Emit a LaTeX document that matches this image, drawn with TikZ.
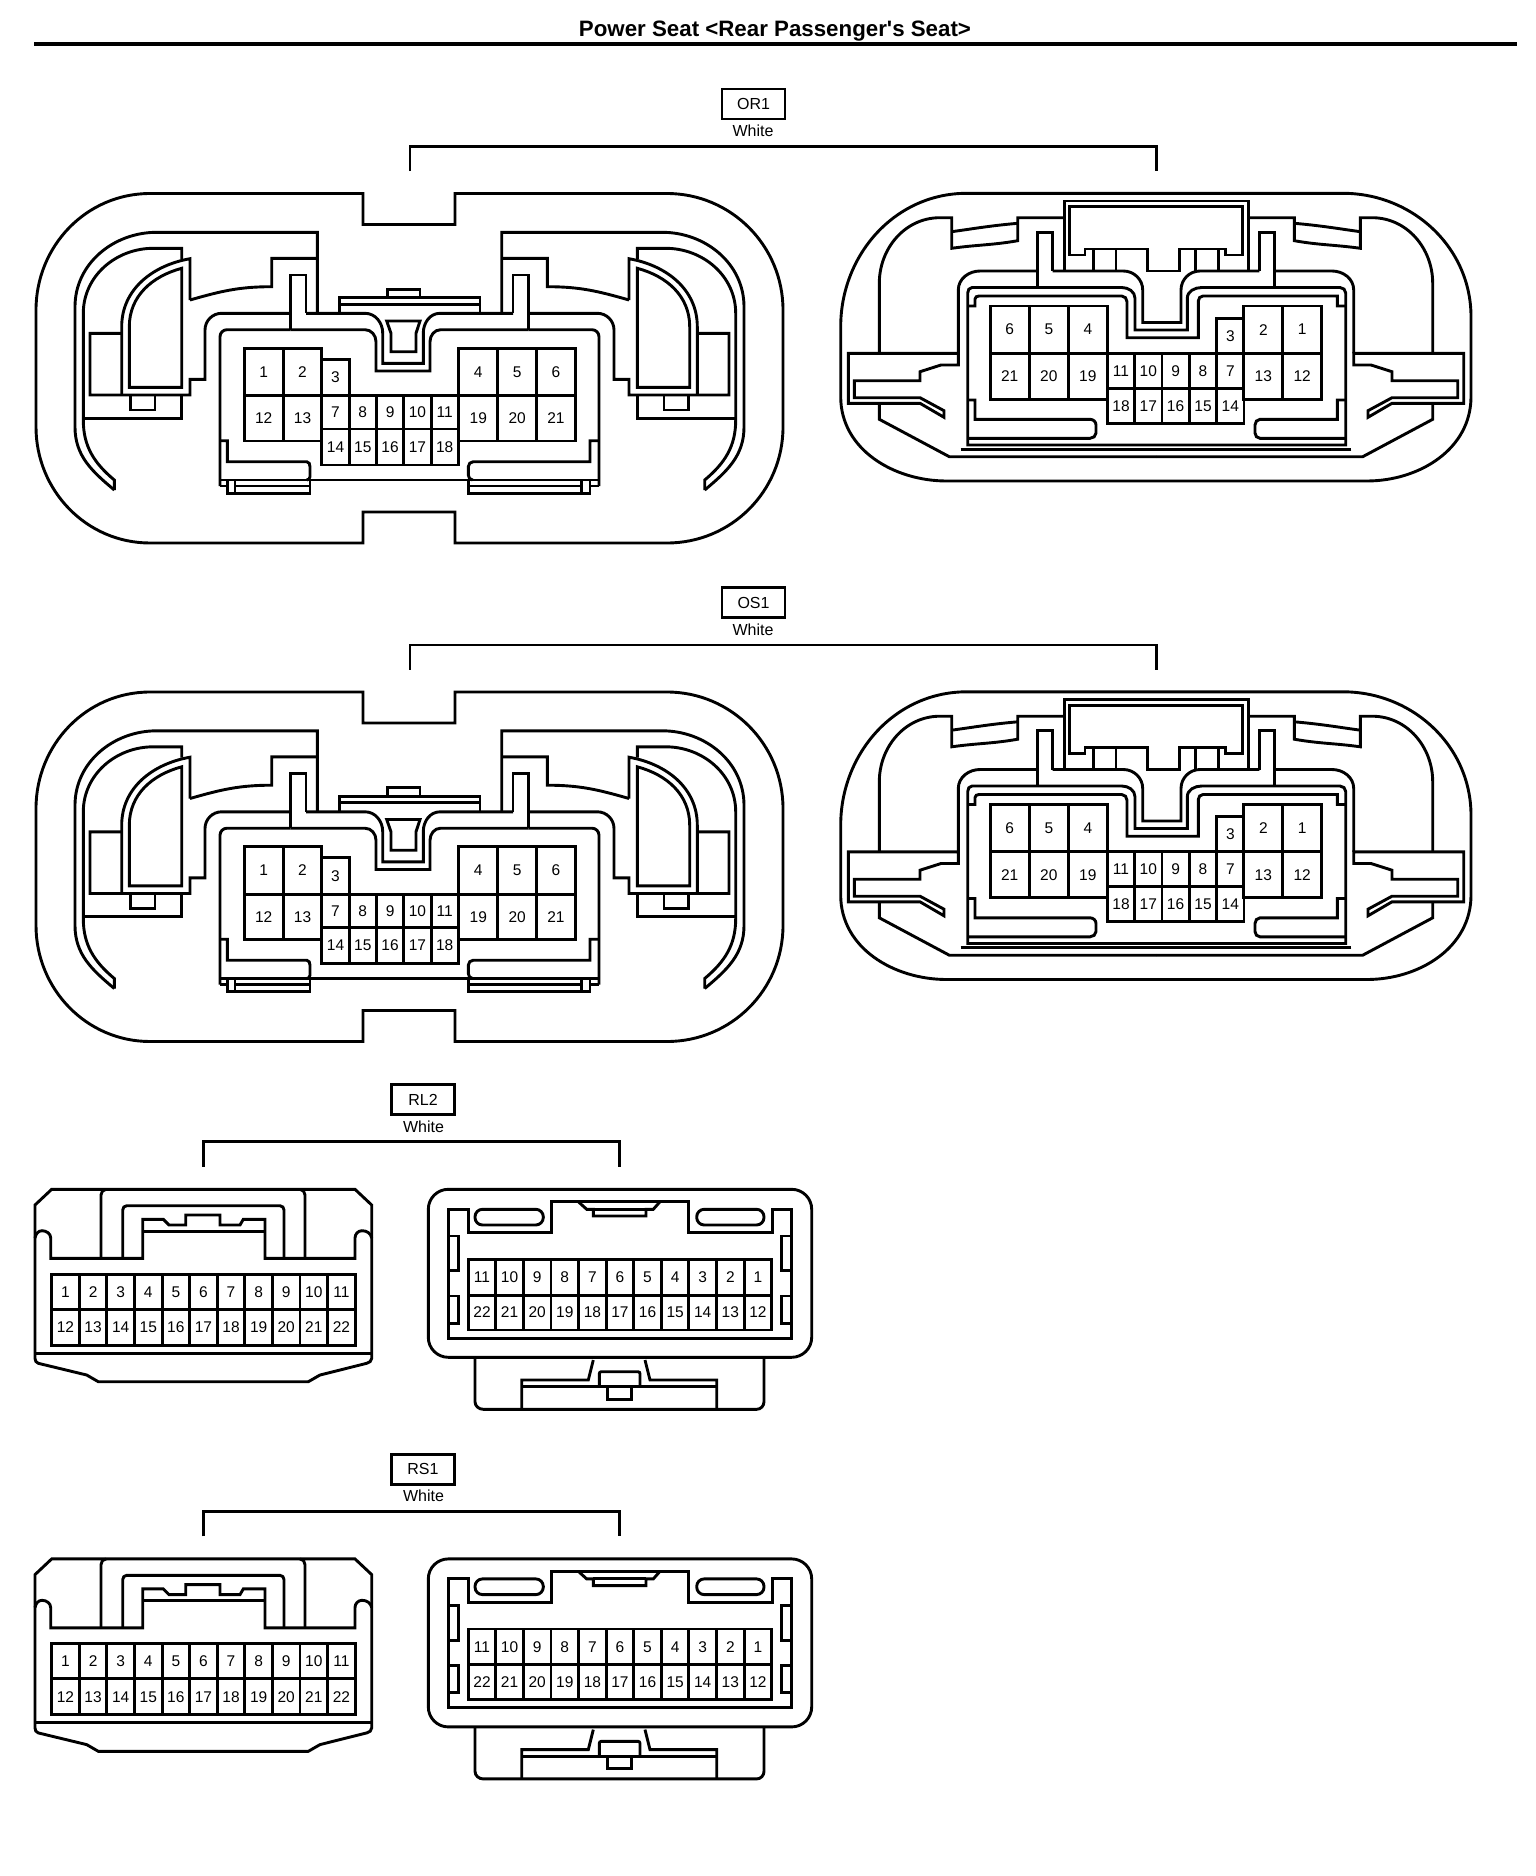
\documentclass[tikz,border=0pt]{standalone}
\usepackage{fontspec}
\setmainfont[Ligatures=TeXOff]{Liberation Sans}
\tikzset{
  pin/.style={draw,inner sep=0pt,font=\fontsize{15.5}{16}\selectfont},
  tagbox/.style={draw,inner sep=0pt,minimum width=63pt,minimum height=30pt,font=\fontsize{16}{16}\selectfont},
  colourtext/.style={anchor=base,inner sep=0pt,font=\fontsize{16}{16}\selectfont},
}
% one side of the wide connector, face with the slot
\newcommand\halfA{
\draw (114.3,490) -- (114.3,480) to[out=140,in=-90] (83.3,420) -- (83.3,313.3) to[out=90,in=180] (153.3,248.3) -- (181.7,248.3) -- (181.7,259);
\draw (114.3,490) to[out=140,in=-90] (75,427) -- (75,306.7) to[out=90,in=180] (156.7,232.3) -- (317.3,232.3) -- (317.3,313.3);
\draw (83.3,418.3) -- (181.7,418.3) -- (181.7,395);
\draw (190,300) to[out=16,in=180] (271.7,286.7) -- (271.7,258.3) -- (317.3,258.3);
\draw (190,300) -- (190,258.7) to[out=190,in=90] (121.7,326.7) -- (121.7,395);
\draw (121.7,333.3) -- (90,333.3) -- (90,395) -- (190,395) -- (190,379.3) -- (205,379.3) -- (205,330) to[out=90,in=180] (221.7,313.3) -- (290.7,313.3);
\draw (181.7,268.3) to[out=195,in=90] (129.3,326.7) -- (129.3,387.3) -- (181.7,387.3) -- cycle;
\draw (130.7,395) -- (130.7,410) -- (155,410) -- (155,395);
\draw (290.7,329.7) -- (290.7,275) -- (306,275) -- (306,313.3);
\draw (290.7,329.7) -- (227,329.7) to[out=180,in=90] (220,336.7) -- (220,486);
}
% one side of the wide connector, face with the top box
\newcommand\halfB{
\draw (1064.3,217.7) -- (1017.7,217.7) -- (1017.7,240.7) to[out=190,in=8] (951.7,248.3) -- (951.7,217.7) -- (940,217.7) to[out=180,in=90] (879.3,283.3) -- (879.3,353.3);
\draw (951.7,231.7) to[out=8,in=185] (1017.7,223.3);
\draw (958.3,353.3) -- (848.3,353.3) -- (848.3,403.3) -- (920,403.3) -- (944,417.3) -- (944,410.7) -- (920,397.7) -- (854.3,397.7) -- (854.3,380.7) -- (920,380.7) -- (920,371.7) -- (941,365) -- (958.3,365) -- cycle;
\draw (958.3,353.3) -- (958.3,290) to[out=90,in=180] (980,271) -- (1037.3,271);
\draw (1037.3,287) -- (1037.3,232.3) -- (1052.7,232.3) -- (1052.7,271);
\draw (879.3,403.3) -- (879.3,419.3) -- (949.3,456.7) -- (1156,456.7);
\draw (960.7,449.3) -- (1156,449.3);
}
% wide pair of connectors with its tag
\newcommand\widepair[3]{
\begin{scope}[shift={(0,#2)},name prefix=#1-]
\node[tagbox] (tag) at (753.5,104) {#3};
\node[colourtext] (col) at (753,136.7) {White};
\coordinate (brA) at (410,171);
\coordinate (brB) at (1156.5,171);
\draw (brA) -- ++(0,-24.5) -| (brB);
% face with the slot
\draw (363,193.5) -- (363,224.5) -- (455,224.5) -- (455,193.5) -- (667,193.5) to[out=0,in=90] (783,310) -- (783,427) to[out=-90,in=0] (667,543) -- (455,543) -- (455,512) -- (363,512) -- (363,543) -- (150,543) to[out=180,in=-90] (36,427) -- (36,310) to[out=90,in=180] (150,193.5) -- cycle;
\halfA
\begin{scope}[shift={(819,0)},xscale=-1]
\halfA
\end{scope}
\draw (306,313.3) -- (365,313.3) to[out=0,in=90] (382.7,333) -- (382.7,363.3) -- (423.3,363.3) -- (423.3,333) to[out=90,in=180] (440,313.3) -- (513,313.3);
\draw (290.7,329.7) -- (365,329.7) to[out=0,in=90] (376,341.7) -- (376,371) -- (430,371) -- (430,341.7) to[out=90,in=180] (440.7,329.7) -- (528.3,329.7);
\draw (339.3,313.3) -- (339.3,297.7) -- (480,297.7) -- (480,313.3);
\draw (339.3,304.3) -- (480,304.3);
\draw (387.3,297.7) -- (387.3,289.3) -- (420,289.3) -- (420,297.7);
\draw (386.7,321) -- (391,333.3) -- (391,351.7) -- (416,351.7) -- (416,333.3) -- (420,321) -- cycle;
\draw (220,440.7) -- (227.3,440.7) -- (227.3,461.7) -- (306.7,461.7) to[out=0,in=90] (310,466.7) -- (310,476.7) to[out=-90,in=0] (306.7,480);
\draw (599.3,440.7) -- (590,440.7) -- (590,461.7) -- (473.3,461.7) to[out=180,in=90] (468.3,466.7) -- (468.3,475) to[out=-90,in=180] (472.7,480);
\draw (220,480) -- (599.3,480);
\draw (220,486) -- (227.3,486) (235,486) -- (310,486) (468.3,486) -- (581.7,486) (590,486) -- (599.3,486);
\draw (227.3,480) -- (227.3,493.3) -- (310,493.3) -- (310,480);
\draw (235,480) -- (235,493.3);
\draw (468.3,480) -- (468.3,493.3) -- (590,493.3) -- (590,480);
\draw (581.7,480) -- (581.7,493.3);
\foreach \n/\x in {1/263.7,2/302.5,4/478.3,5/517.2,6/555.9}
  \node[pin,minimum width=38.8pt,minimum height=47.4pt] (p\n) at (\x,372) {\n};
\foreach \n/\x in {12/263.7,13/302.5,19/478.3,20/517.2,21/555.9}
  \node[pin,minimum width=38.8pt,minimum height=45.3pt] (p\n) at (\x,418.3) {\n};
\node[pin,minimum width=27.4pt,minimum height=36.4pt] (p3) at (335.5,377.5) {3};
\foreach \n/\x in {7/335.5,8/362.8,9/390.1,10/417.4,11/444.7}
  \node[pin,minimum width=27.4pt,minimum height=33.3pt] (p\n) at (\x,412.3) {\n};
\foreach \n/\x in {14/335.5,15/362.8,16/390.1,17/417.4,18/444.7}
  \node[pin,minimum width=27.4pt,minimum height=36pt] (p\n) at (\x,447) {\n};
% face with the top box
\draw (966.7,193.3) -- (1343,193.3) to[out=0,in=90] (1471,316.7) -- (1471,396.7) to[out=-90,in=0] (1366.7,481) -- (946.7,481) to[out=180,in=-90] (840.7,396.7) -- (840.7,326.7) to[out=90,in=180] cycle;
\halfB
\begin{scope}[shift={(2312,0)},xscale=-1]
\halfB
\end{scope}
\draw (1064.3,271) -- (1064.3,201) -- (1248.3,201) -- (1248.3,271);
\draw (1069.3,206.7) -- (1242.3,206.7) -- (1242.3,255) -- (1225.7,255) -- (1225.7,249) -- (1179.3,249) -- (1179.3,271) -- (1147.7,271) -- (1147.7,249) -- (1085,249) -- (1085,255) -- (1069.3,255) -- cycle;
\foreach \x in {1093.3,1116,1195.7,1218.3}
  \draw (\x,249) -- (\x,271);
\draw (1052.7,271) -- (1123.3,271) to[out=0,in=90] (1142.7,290) -- (1142.7,322.5) -- (1181,322.5) -- (1181,290) to[out=90,in=180] (1200,271) -- (1259.3,271);
\draw (972,287.5) -- (1121.7,287.5) to[out=0,in=90] (1135,298.3) -- (1135,330) -- (1187.3,330) -- (1187.3,298.3) to[out=90,in=180] (1201.7,287.5) -- (1340,287.5) to[out=0,in=90] (1345.7,293) -- (1345.7,445) -- (967.7,445) -- (967.7,293) to[out=90,in=180] cycle;
\draw (967.7,306) -- (975,306) -- (975,299) to[out=90,in=180] (979,296) -- (1121.7,296) to[out=0,in=90] (1127,301.7) -- (1127,337.7) -- (1198.3,337.7) -- (1198.3,301) to[out=90,in=180] (1203,296) -- (1337.3,296) -- (1337.3,306) -- (1345.7,306);
\draw (967.7,400) -- (975,400) -- (975,419.3) -- (1090,419.3) to[out=0,in=90] (1096,425) -- (1096,433) to[out=-90,in=0] (1090,438.3) -- (967.7,438.3);
\draw (1345.7,400) -- (1337.3,400) -- (1337.3,419.3) -- (1260,419.3) to[out=180,in=90] (1255,425) -- (1255,433) to[out=-90,in=180] (1260,438.3) -- (1345.7,438.3);
\foreach \n/\x in {6/1009.7,5/1048.8,4/1087.8,2/1263.3,1/1302.2}
  \node[pin,minimum width=39pt,minimum height=47.3pt] (q\n) at (\x,329.6) {\n};
\foreach \n/\x in {21/1009.7,20/1048.8,19/1087.8,13/1263.3,12/1302.2}
  \node[pin,minimum width=39pt,minimum height=46pt] (q\n) at (\x,376.3) {\n};
\node[pin,minimum width=27.3pt,minimum height=35pt] (q3) at (1230.3,335.8) {3};
\foreach \n/\x in {11/1121,10/1148.3,9/1175.6,8/1203,7/1230.3}
  \node[pin,minimum width=27.3pt,minimum height=35pt] (q\n) at (\x,370.8) {\n};
\foreach \n/\x in {18/1121,17/1148.3,16/1175.6,15/1203,14/1230.3}
  \node[pin,minimum width=27.3pt,minimum height=35pt] (q\n) at (\x,405.8) {\n};
\end{scope}
}
% narrow pair of connectors with its tag
\newcommand\narrowpair[3]{
\begin{scope}[shift={(0,#2)},name prefix=#1-]
\node[tagbox] (tag) at (423,1099.5) {#3};
\node[colourtext] (col) at (423.5,1132.3) {White};
\coordinate (brA) at (203.3,1166.7);
\coordinate (brB) at (619.3,1166.7);
\draw (brA) -- ++(0,-25) -| (brB);
% face with the catch
\draw (51.7,1189.3) -- (355,1189.3) -- (371.7,1205) -- (371.7,1358.3) to[out=-90,in=15] (366.7,1363.3) -- (320,1375) -- (308.3,1381.7) -- (98.3,1381.7) -- (86.7,1375) -- (38.3,1363.3) to[out=165,in=-90] (35,1358.3) -- (35,1205) -- cycle;
\draw (35,1353.3) -- (371.7,1353.3);
\draw (35,1238) to[out=80,in=180] (42,1230.7) to[out=0,in=90] (50.7,1238) -- (50.7,1258.3) -- (142.7,1258.3) -- (142.7,1219.3) -- (163.3,1219.3) -- (169,1225) -- (185.7,1225) -- (185.7,1215) -- (220,1215) -- (220,1225) -- (240,1225) -- (243.3,1219.3) -- (265,1219.3) -- (265,1258.3) -- (355,1258.3) -- (355,1238) to[out=90,in=180] (362,1230.7) to[out=0,in=100] (371.7,1238);
\draw (142.7,1231.3) -- (265,1231.3);
\draw (101,1258.3) -- (101,1195) to[out=90,in=180] (106,1189.3);
\draw (305,1258.3) -- (305,1195) to[out=90,in=0] (300,1189.3);
\draw (122.7,1258.3) -- (122.7,1210) to[out=90,in=180] (126.7,1205.7) -- (280,1205.7) to[out=0,in=90] (284,1210) -- (284,1258.3);
\foreach \n [evaluate=\n as \x using 51.7+27.59*(\n-0.5)] in {1,...,11}
  \node[pin,minimum width=27.6pt,minimum height=35pt] (c\n) at (\x,1291.8) {\n};
\foreach \n [evaluate=\n as \x using 51.7+27.59*(\n-11.5)] in {12,...,22}
  \node[pin,minimum width=27.6pt,minimum height=35.7pt] (c\n) at (\x,1327.2) {\n};
% face with the latch
\draw[rounded corners=20pt] (428.3,1189.3) rectangle (811.7,1357.3);
\draw (448.3,1338.3) -- (791.7,1338.3) -- (791.7,1209.3) -- (772.7,1209.3) -- (772.7,1232.7) -- (688.3,1232.7) -- (688.3,1201.7) -- (551.7,1201.7) -- (551.7,1232.7) -- (468.3,1232.7) -- (468.3,1209.3) -- (448.3,1209.3) -- cycle;
\draw (448.3,1236) -- (458.3,1236) -- (458.3,1270.7) -- (448.3,1270.7);
\draw (448.3,1296) -- (458.3,1296) -- (458.3,1323.3) -- (448.3,1323.3);
\draw (791.7,1236) -- (781.7,1236) -- (781.7,1270.7) -- (791.7,1270.7);
\draw (791.7,1296) -- (781.7,1296) -- (781.7,1323.3) -- (791.7,1323.3);
\draw[rounded corners=7.5pt] (475,1209.3) rectangle (543.3,1225);
\draw[rounded corners=7.5pt] (696.7,1209.3) rectangle (764,1225);
\draw (578.3,1201.7) -- (586.7,1209.3) -- (593.3,1209.3) -- (593.3,1216) -- (646,1216) -- (646,1209.3) -- (653.3,1209.3) -- (660,1201.7);
\draw (593.3,1209.3) -- (646,1209.3);
\foreach \n [evaluate=\n as \x using 771.7-27.59*(\n-0.5)] in {1,...,11}
  \node[pin,minimum width=27.6pt,minimum height=35.7pt] (d\n) at (\x,1277.2) {\n};
\foreach \n [evaluate=\n as \x using 771.7-27.59*(\n-11.5)] in {12,...,22}
  \node[pin,minimum width=27.6pt,minimum height=35pt] (d\n) at (\x,1312.5) {\n};
\draw (475,1357.3) -- (475,1401.7) to[out=-90,in=180] (483.3,1409.3) -- (756.7,1409.3) to[out=0,in=-90] (764,1401.7) -- (764,1357.3);
\draw (593.3,1360) -- (588.3,1380) -- (521.7,1380) -- (521.7,1409.3);
\draw (645,1360) -- (650,1380) -- (716.7,1380) -- (716.7,1409.3);
\draw (521.7,1386.7) -- (716.7,1386.7);
\draw[rounded corners=2pt] (599.3,1386.7) -- (599.3,1371.7) -- (640,1371.7) -- (640,1386.7);
\draw (607.3,1386.7) -- (607.3,1399.3) -- (631.7,1399.3) -- (631.7,1386.7);
\end{scope}
}
\begin{document}
\begin{tikzpicture}[x=1pt,y=-1pt,line width=2.9pt]
\useasboundingbox (0,0) rectangle (1536,1876);
\node[font=\bfseries\fontsize{22.3}{23}\selectfont,inner sep=0pt,anchor=base] (title) at (775,36.5) {Power Seat <Rear Passenger's Seat>};
\coordinate (ruleA) at (34,44);
\coordinate (ruleB) at (1517,44);
\draw[line width=3.4pt] (ruleA) -- (ruleB);
\widepair{or}{0}{OR1}
\widepair{os}{498.5}{OS1}
\narrowpair{rl}{0}{RL2}
\narrowpair{rs}{369.6}{RS1}
\end{tikzpicture}
\end{document}
